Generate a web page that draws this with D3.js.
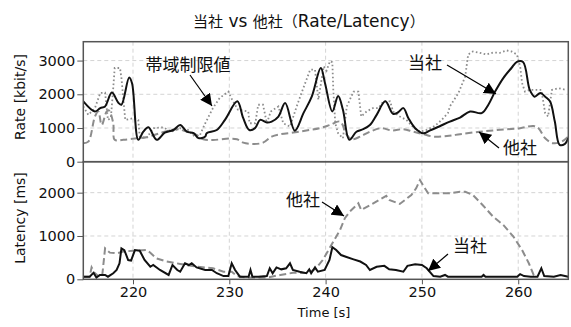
<!DOCTYPE html>
<html>
<head>
<meta charset="utf-8">
<script src="https://cdn.jsdelivr.net/npm/d3@7"></script>
<style>
  body { margin: 0; background: #fff; }
  text { font-family: "DejaVu Sans", "Noto Sans CJK JP", sans-serif; fill: #111; }
  .jp { font-family: "Noto Sans CJK JP", sans-serif; }
</style>
</head>
<body>
<div id="chart"></div>
<script>
// rate panel [time, kbit/s]
var rateOurs = [[214.84,1790],[216.05,1490],[216.6,1590],[217.1,1640],[217.8,2050],[218.5,1740],[218.8,1690],
  [219.6,2500],[219.9,2330],[220.55,650],[221.07,890],[221.6,1020],[222.46,650],[223.3,860],[224.2,940],
  [224.9,1090],[225.6,890],[226.3,845],[226.8,700],[227.5,745],[227.65,845],[228.7,940],[229.55,1240],
  [230.83,1790],[231.45,1290],[232.08,940],[232.67,995],[233.2,1240],[233.9,1160],[234.4,1190],[235.1,1340],
  [235.8,1740],[236.8,920],[237.7,1440],[238.56,1930],[239.5,2780],[239.94,2330],[240.7,1490],[241.3,1950],
  [241.8,1540],[242.46,650],[243.2,890],[243.9,965],[244.6,1090],[245.3,1390],[246.2,1790],[247.0,1420],
  [247.5,1460],[248.07,1590],[248.6,1290],[249.3,995],[250.15,845],[250.8,920],[251.9,1060],[252.9,1190],
  [253.96,1310],[255.0,1490],[256.2,1440],[256.9,1690],[257.6,2080],[258.45,2480],[259.3,2780],[259.86,2960],
  [260.5,2960],[261.2,2130],[261.7,1930],[262.3,2040],[262.8,1930],[263.3,1790],[263.8,1190],[264.3,500],
  [264.85,530],[265.2,700]];

var rateOther = [[214.84,550],[215.36,595],[216.05,1340],[216.4,1490],[216.75,1090],[217.27,1490],[217.5,1520],
  [217.95,1140],[218.1,650],[219.0,650],[220.4,695],[221.4,725],[222.8,845],[224.5,965],[225.6,890],
  [226.6,795],[227.3,665],[228.3,645],[230.07,685],[230.8,665],[231.45,565],[232.5,525],[233.5,565],
  [234.4,745],[235.3,815],[236.65,865],[238.0,925],[239.4,995],[240.45,1090],[241.5,1190],[242.2,795],
  [242.7,665],[243.6,745],[244.6,890],[245.8,995],[246.9,925],[248.07,965],[249.1,890],[250.15,815],
  [251.2,745],[252.6,765],[253.96,815],[256.0,890],[258.1,945],[260.2,995],[261.6,1060],[262.1,995],
  [262.8,695],[263.6,550],[264.5,595],[265.2,745]];

var rateLimit = [[214.84,1640],[215.36,1390],[216.05,1590],[216.6,2040],[217.1,2050],[217.4,1240],[217.7,1300],
  [217.9,2000],[218.1,2780],[218.65,2780],[218.8,2480],[219.2,1240],[220.03,1290],[220.55,1240],[220.7,745],
  [221.4,695],[222.1,995],[223.15,1020],[224.0,890],[224.9,995],[225.7,945],[226.4,745],[226.96,795],
  [227.5,1140],[228.3,1590],[229.0,1890],[229.9,2080],[230.2,1890],[230.9,1540],[231.97,1490],[232.1,1140],
  [232.7,1140],[233.0,1690],[233.5,1690],[233.9,1140],[234.3,1490],[235.1,1640],[235.6,1140],[236.3,1040],
  [237.0,1640],[237.5,2040],[238.4,2730],[238.9,2730],[239.25,1840],[239.8,2830],[240.1,2700],[240.45,2980],
  [240.7,2950],[240.8,2130],[241.0,1140],[241.3,845],[241.8,695],[242.2,1640],[242.9,2080],[243.4,2080],
  [243.7,1340],[244.25,1490],[244.9,1590],[245.5,1590],[246.0,1790],[246.7,1790],[247.0,1490],[247.7,1340],
  [248.4,1240],[249.1,1020],[249.8,890],[250.5,945],[251.35,1060],[252.05,1240],[252.7,1440],[252.9,1640],
  [253.8,2040],[254.5,2530],[254.8,3180],[255.3,3270],[256.0,3230],[256.7,3180],[257.4,3240],[258.1,3230],
  [258.8,3300],[259.3,3270],[259.86,3180],[260.2,2830],[260.4,2330],[260.7,2080],[261.2,2130],[261.9,2130],
  [262.4,2130],[262.8,1440],[263.1,1340],[263.5,2130],[264.2,2180],[265.0,2130]];

// latency panel [time, ms]
var latOurs = [[214.84,60],[215.5,60],[215.9,150],[216.2,40],[216.56,100],[217.1,100],[217.4,60],[217.95,140],
  [218.3,215],[218.6,370],[218.8,715],[219.1,675],[219.5,445],[219.8,430],[220.2,675],[220.7,660],[221.2,445],
  [221.8,290],[222.1,330],[222.8,215],[223.7,100],[224.1,330],[224.6,215],[224.9,175],[225.4,370],[225.8,330],
  [226.1,370],[226.6,275],[227.5,215],[228.2,215],[228.7,140],[229.4,75],[229.9,75],[230.25,370],[230.6,215],
  [231.1,60],[232.0,60],[232.2,215],[232.4,60],[233.0,60],[233.9,75],[234.2,255],[234.5,140],[234.9,275],
  [235.4,230],[235.9,255],[236.3,370],[236.6,215],[237.3,175],[238.0,140],[238.3,230],[238.5,140],[238.9,275],
  [239.2,175],[239.9,215],[240.4,445],[240.7,740],[241.1,675],[241.6,560],[242.1,520],[242.9,460],[243.6,410],
  [244.2,330],[244.6,215],[245.3,290],[246.1,310],[246.6,230],[247.3,215],[248.07,175],[248.5,310],[249.3,345],
  [250.0,330],[250.5,255],[251.2,75],[251.9,60],[252.4,100],[252.7,60],[256.2,60],[256.4,100],[256.6,60],
  [259.9,60],[260.2,120],[260.6,75],[261.3,60],[262.0,60],[262.4,255],[262.7,75],[263.7,60],[264.4,100],[265.2,60]];

var latOther = [[214.84,60],[215.5,60],[215.7,275],[216.0,150],[216.4,75],[216.8,75],[217.1,715],[217.6,615],
  [218.3,600],[219.0,640],[220.0,660],[221.4,675],[221.8,615],[222.4,485],[223.5,410],[224.9,355],[226.6,290],
  [228.3,255],[229.4,175],[230.25,175],[230.8,75],[231.8,40],[233.9,40],[235.3,100],[236.6,150],[238.2,145],
  [239.0,250],[239.7,445],[240.7,830],[241.5,1140],[242.0,1410],[242.5,1560],[243.4,1755],[243.7,1600],
  [244.95,1755],[246.3,1925],[246.6,1830],[247.7,1740],[248.9,1945],[249.4,2100],[249.8,2290],[250.2,2140],
  [250.65,1985],[251.8,1985],[252.9,1985],[253.96,2020],[254.5,2020],[255.3,1945],[256.3,1715],[257.4,1445],
  [258.45,1255],[259.5,985],[260.4,675],[261.1,370],[261.6,100],[261.9,40]];

var xTicks = [220, 230, 240, 250, 260];
var rateTicks = [0, 1000, 2000, 3000];
var latTicks = [0, 1000, 2000];

var svgWidth = 571, svgHeight = 327;
var left = 83.3, right = 568.3;

var svg = d3.select("#chart").append("svg")
  .attr("width", svgWidth)
  .attr("height", svgHeight);

var x = d3.scaleLinear().domain([214.84, 265.2]).range([left, right]);
var yRate = d3.scaleLinear().domain([0, 3560]).range([161.7, 41.7]);
var yLat = d3.scaleLinear().domain([0, 2715]).range([279.3, 161.7]);

svg.append("defs").append("marker")
  .attr("id", "arrow")
  .attr("viewBox", "0 0 10 10")
  .attr("refX", 10).attr("refY", 5)
  .attr("markerWidth", 12).attr("markerHeight", 12)
  .attr("markerUnits", "userSpaceOnUse")
  .attr("orient", "auto")
  .append("path")
  .attr("d", "M0,0 L10,5 L0,10 z")
  .attr("fill", "#000");

function drawPanel(y, ticks, label, labelY) {
  var g = svg.append("g");
  var top = y.range()[1], bottom = y.range()[0];
  // grid
  g.selectAll(".vgrid").data(xTicks).enter().append("line")
    .attr("x1", d => x(d)).attr("x2", d => x(d))
    .attr("y1", top).attr("y2", bottom)
    .attr("stroke", "#d4d4d4").attr("stroke-dasharray", "4,3");
  g.selectAll(".hgrid").data(ticks.slice(1)).enter().append("line")
    .attr("x1", left).attr("x2", right)
    .attr("y1", d => y(d)).attr("y2", d => y(d))
    .attr("stroke", "#d4d4d4").attr("stroke-dasharray", "4,3");
  // y axis
  var ax = g.append("g")
    .attr("transform", `translate(${left},0)`)
    .call(d3.axisLeft(y).tickValues(ticks).tickSize(6).tickPadding(2).tickFormat(d3.format("d")));
  ax.select(".domain").remove();
  ax.selectAll("line").attr("stroke", "#555");
  ax.selectAll("text").style("font-size", "14.5px").attr("fill", "#111");
  svg.append("text")
    .attr("transform", `translate(20,${labelY}) rotate(-90)`)
    .attr("text-anchor", "middle")
    .attr("dy", "0.35em")
    .style("font-size", "14px")
    .text(label);
  return g;
}

drawPanel(yRate, rateTicks, "Rate [kbit/s]", 97);
drawPanel(yLat, latTicks, "Latency [ms]", 218);

// x axis
var xAxis = svg.append("g")
  .attr("transform", `translate(0,279.3)`)
  .call(d3.axisBottom(x).tickValues(xTicks).tickSize(5).tickPadding(2));
xAxis.select(".domain").remove();
xAxis.selectAll("line").attr("stroke", "#555");
xAxis.selectAll("text").style("font-size", "14.5px").attr("fill", "#111");

svg.append("text")
  .attr("x", 324).attr("y", 317)
  .attr("text-anchor", "middle")
  .style("font-size", "13px")
  .text("Time [s]");

// lines
var lineRate = d3.line().x(d => x(d[0])).y(d => yRate(d[1]));
var smoothRate = d3.line().x(d => x(d[0])).y(d => yRate(d[1])).curve(d3.curveCatmullRom.alpha(0.5));
var lineLat = d3.line().x(d => x(d[0])).y(d => yLat(d[1]));

var clip = svg.append("clipPath").attr("id", "plotclip");
clip.append("rect").attr("x", left).attr("y", 41.7).attr("width", right - left).attr("height", 279.3 - 41.7);

var lines = svg.append("g").attr("clip-path", "url(#plotclip)");

lines.append("path").datum(rateLimit)
  .attr("d", lineRate)
  .attr("fill", "none").attr("stroke", "#8c8c8c")
  .attr("stroke-width", 1.8).attr("stroke-dasharray", "1.6,2.4");

lines.append("path").datum(rateOther)
  .attr("d", smoothRate)
  .attr("fill", "none").attr("stroke", "#8c8c8c")
  .attr("stroke-width", 2).attr("stroke-dasharray", "7,3.5");

lines.append("path").datum(rateOurs)
  .attr("d", smoothRate)
  .attr("fill", "none").attr("stroke", "#111")
  .attr("stroke-width", 2);

lines.append("path").datum(latOther)
  .attr("d", lineLat)
  .attr("fill", "none").attr("stroke", "#8c8c8c")
  .attr("stroke-width", 2).attr("stroke-dasharray", "7,3.5");

lines.append("path").datum(latOurs)
  .attr("d", lineLat)
  .attr("fill", "none").attr("stroke", "#111")
  .attr("stroke-width", 2);

// panel frames
svg.append("rect")
  .attr("x", left).attr("y", 41.7).attr("width", right - left).attr("height", 161.7 - 41.7)
  .attr("fill", "none").attr("stroke", "#555").attr("stroke-width", 1.5);
svg.append("rect")
  .attr("x", left).attr("y", 161.7).attr("width", right - left).attr("height", 279.3 - 161.7)
  .attr("fill", "none").attr("stroke", "#555").attr("stroke-width", 1.5);

// title: CJK and latin parts in their own faces
var title = svg.append("text")
  .attr("x", 193).attr("y", 26.5);
var titleParts = [
  { s: "当社", jp: true }, { s: " vs ", jp: false }, { s: "他社", jp: true },
  { s: "（", jp: true }, { s: "Rate/Latency", jp: false }, { s: "）", jp: true }
];
titleParts.forEach(function(p) {
  title.append("tspan")
    .attr("class", p.jp ? "jp" : null)
    .style("font-size", p.jp ? "15px" : "17px")
    .text(p.s);
});

// annotations
var notes = [
  { text: "帯域制限値", tx: 188, ty: 71, x1: 190, y1: 75, x2: 212, y2: 106 },
  { text: "当社", tx: 425, ty: 69, x1: 447, y1: 65, x2: 496, y2: 94 },
  { text: "他社", tx: 520, ty: 154, x1: 499, y1: 148, x2: 479, y2: 132 },
  { text: "他社", tx: 303, ty: 206, x1: 322, y1: 202, x2: 344, y2: 216 },
  { text: "当社", tx: 470, ty: 252, x1: 448, y1: 254, x2: 428, y2: 271 }
];

notes.forEach(function(n) {
  svg.append("line")
    .attr("x1", n.x1).attr("y1", n.y1)
    .attr("x2", n.x2).attr("y2", n.y2)
    .attr("stroke", "#000").attr("stroke-width", 1.2)
    .attr("marker-end", "url(#arrow)");
  svg.append("text")
    .attr("class", "jp")
    .attr("x", n.tx).attr("y", n.ty)
    .attr("text-anchor", "middle")
    .style("font-size", "17px")
    .text(n.text);
});
</script>
</body>
</html>
